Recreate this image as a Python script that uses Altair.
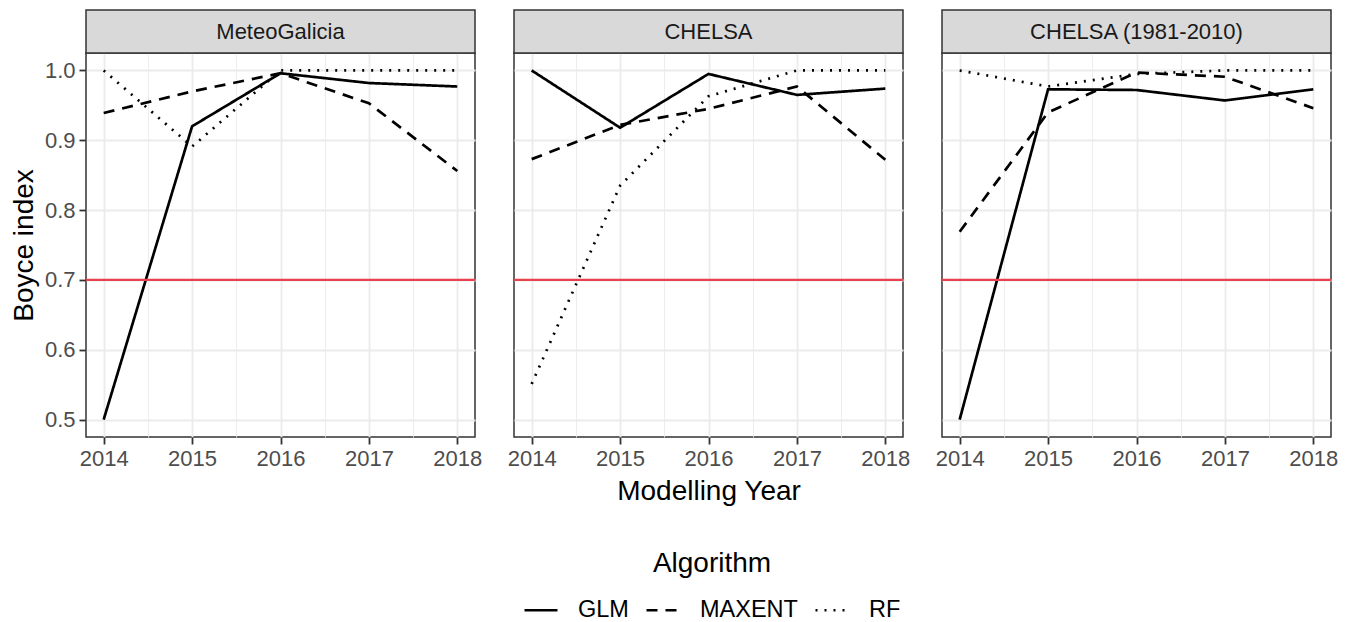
import altair as alt
import pandas as pd

# ---------------- data ----------------
years = [2014, 2015, 2016, 2017, 2018]
panels = ["MeteoGalicia", "CHELSA", "CHELSA (1981-2010)"]
algorithms = ["GLM", "MAXENT", "RF"]

mg_glm = [0.500, 0.920, 0.996, 0.982, 0.977]
mg_maxent = [0.939, 0.970, 0.996, 0.953, 0.856]
mg_rf = [1.000, 0.891, 1.000, 1.000, 1.000]

ch_glm = [1.000, 0.918, 0.995, 0.965, 0.974]
ch_maxent = [0.873, 0.922, 0.945, 0.977, 0.872]
ch_rf = [0.551, 0.835, 0.963, 1.000, 1.000]

cr_glm = [0.500, 0.973, 0.972, 0.957, 0.973]
cr_maxent = [0.769, 0.940, 0.997, 0.991, 0.946]
cr_rf = [1.000, 0.977, 0.995, 1.000, 1.000]

threshold = [0.7]

x_ticks = [2014, 2014.5, 2015, 2015.5, 2016, 2016.5, 2017, 2017.5, 2018]
y_ticks = [0.5, 0.55, 0.6, 0.65, 0.7, 0.75, 0.8, 0.85, 0.9, 0.95, 1.0]

series = {
    panels[0]: [mg_glm, mg_maxent, mg_rf],
    panels[1]: [ch_glm, ch_maxent, ch_rf],
    panels[2]: [cr_glm, cr_maxent, cr_rf],
}

# ---------------- style ----------------
FONT = "Liberation Sans"
W = 389
H = 384
SH = 43
LW = 2.7

x_major = "datum.value % 1 == 0"
y_major = "round(datum.value * 100) % 10 == 0"


def panel_df(name):
    rows = []
    for alg, vals in zip(algorithms, series[name]):
        for yr, v in zip(years, vals):
            rows.append({"year": yr, "value": v, "Algorithm": alg})
    return pd.DataFrame(rows)


def make_panel(i, name):
    df = panel_df(name)
    x_axis = alt.Axis(
        values=x_ticks,
        labelExpr=f"{x_major} ? format(datum.value, 'd') : ''",
        tickOpacity={"condition": {"test": x_major, "value": 1}, "value": 0},
        gridWidth={"condition": {"test": x_major, "value": 1.8}, "value": 0.9},
        title="Modelling Year" if i == 1 else None,
        labelOverlap=False,
    )
    if i == 0:
        y_axis = alt.Axis(
            values=y_ticks,
            labelExpr=f"{y_major} ? format(datum.value, '.1f') : ''",
            tickOpacity={"condition": {"test": y_major, "value": 1}, "value": 0},
            gridWidth={"condition": {"test": y_major, "value": 1.8}, "value": 0.9},
            title="Boyce index",
            titlePadding=6,
            labelOverlap=False,
        )
    else:
        y_axis = alt.Axis(
            values=y_ticks,
            labels=False,
            ticks=False,
            gridWidth={"condition": {"test": y_major, "value": 1.8}, "value": 0.9},
            title=None,
        )
    xs = alt.Scale(domain=[2013.8, 2018.2], nice=False, zero=False)
    ys = alt.Scale(domain=[0.475, 1.025], nice=False, zero=False)

    lines = alt.Chart(df).mark_line(color="black", strokeWidth=LW, strokeCap="butt").encode(
        x=alt.X("year:Q", scale=xs, axis=x_axis),
        y=alt.Y("value:Q", scale=ys, axis=y_axis),
        strokeDash=alt.StrokeDash(
            "Algorithm:N",
            scale=alt.Scale(domain=algorithms, range=[[1, 0], [11, 8], [2, 7]]),
            legend=alt.Legend(
                orient="none",
                legendX=437,
                legendY=497,
                direction="horizontal",
                title="Algorithm",
                titleAnchor="middle",
                titleOrient="top",
                titleFontSize=28,
                titleFontWeight="normal",
                titleColor="black",
                titleFont=FONT,
                titlePadding=14,
                labelFontSize=23.5,
                labelColor="black",
                labelFont=FONT,
                labelOffset=19,
                columnPadding=12,
                symbolType="stroke",
                symbolSize=1089,
                symbolStrokeWidth=LW,
                symbolStrokeColor="black",
            ),
        ),
    )
    red = alt.Chart(pd.DataFrame({"t": threshold})).mark_rule(color="#E8414E", strokeWidth=2.2).encode(
        y=alt.Y("t:Q", scale=ys)
    )

    sdf = pd.DataFrame({"label": [name]})
    rect = alt.Chart(sdf).mark_rect(fill="#D9D9D9", stroke="#333333", strokeWidth=1.5).encode(
        x=alt.value(0), x2=alt.value(W), y=alt.value(-SH), y2=alt.value(0)
    )
    txt = alt.Chart(sdf).mark_text(fontSize=22, color="#1A1A1A", font=FONT).encode(
        x=alt.value(W / 2), y=alt.value(-SH / 2), text="label:N"
    )
    return alt.layer(lines, red, rect, txt).properties(width=W, height=H)


chart = alt.hconcat(
    *[make_panel(i, n) for i, n in enumerate(panels)], spacing=39, bounds="flush"
).properties(
    padding={"left": 1, "right": 4, "top": 0, "bottom": 2},
    background="white",
).configure_view(
    stroke="#333333", strokeWidth=1.5
).configure_axis(
    labelFont=FONT,
    labelFontSize=22,
    labelColor="#4D4D4D",
    labelPadding=4,
    tickColor="#333333",
    tickWidth=1.8,
    tickSize=7,
    domain=False,
    gridColor="#EBEBEB",
    titleFont=FONT,
    titleFontSize=28,
    titleFontWeight="normal",
    titleColor="black",
    titlePadding=8,
)

chart.save("out.html", embed_options={"renderer": "svg", "actions": False})
